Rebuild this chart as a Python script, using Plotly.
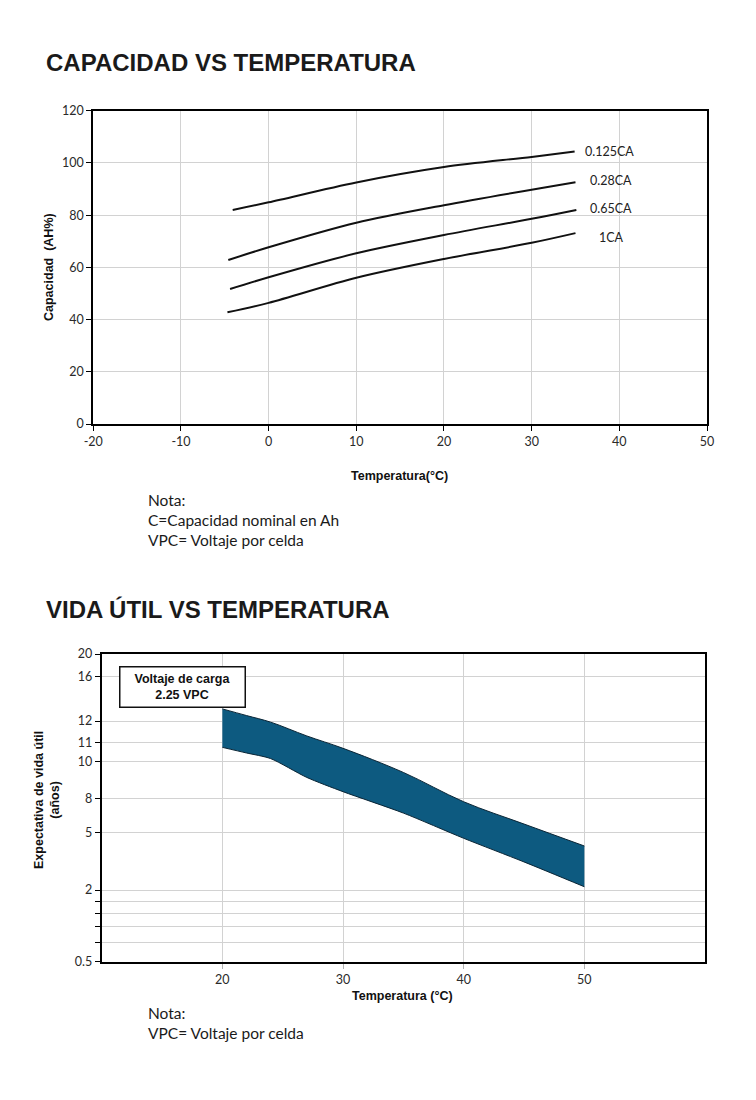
import numpy as np
import plotly.graph_objects as go

# ---------------- Data: Capacidad vs Temperatura ----------------
cap_series = ["0.125CA", "0.28CA", "0.65CA", "1CA"]
cap_temp_0125 = [-4.1, 0, 10, 20, 30, 34.9]
cap_val_0125 = [82.0, 84.9, 92.5, 98.4, 102.3, 104.4]
cap_temp_028 = [-4.6, 0, 10, 20, 35.0]
cap_val_028 = [62.8, 67.7, 77.1, 83.8, 92.6]
cap_temp_065 = [-4.4, 0, 10, 20, 30, 35.1]
cap_val_065 = [51.7, 56.2, 65.4, 72.4, 78.6, 82.0]
cap_temp_1 = [-4.7, 0, 10, 20, 30, 35.0]
cap_val_1 = [42.8, 46.4, 56.0, 63.2, 69.4, 73.1]

cap_x_ticks = [-20, -10, 0, 10, 20, 30, 40, 50]
cap_y_ticks = [0, 20, 40, 60, 80, 100, 120]

# ---------------- Data: Vida útil vs Temperatura ----------------
life_temp = [20, 22, 24, 27, 30, 35, 40, 45, 50]
life_upper = [13.1, 12.5, 11.95, 11.3, 10.69, 9.42, 7.73, 5.74, 4.29]
life_lower = [10.74, 10.45, 10.16, 9.15, 8.38, 6.72, 4.69, 3.46, 2.17]

# non-uniform (custom) life axis: tick values and their scale positions
life_tick_values = [0.5, 2, 5, 8, 10, 11, 12, 16, 20]
life_tick_labels = ["0.5", "2", "5", "8", "10", "11", "12", "16", "20"]
life_tick_pos = [0, 23.3, 42.05, 52.97, 65.0, 71.3, 78.2, 92.6, 100]
life_minor_pos = [6.2, 11.6, 15.7, 19.7]
life_x_ticks = [20, 30, 40, 50]


def life_to_axis(v):
    return np.interp(v, life_tick_values, life_tick_pos)


TICK_FONT = dict(family="Lato, Open Sans, sans-serif", size=12.5, color="#2a2a2a")
BOLDF = "Liberation Sans, Arial, sans-serif"
TITLE_FONT = dict(family="Liberation Sans, Arial, sans-serif", size=24, color="#1a1a1a")
NOTE_FONT = dict(family="Lato, Open Sans, sans-serif", size=15.5, color="#1a1a1a")

fig = go.Figure()

# Capacity curves
for name, xs, ys in [
    ("0.125CA", cap_temp_0125, cap_val_0125),
    ("0.28CA", cap_temp_028, cap_val_028),
    ("0.65CA", cap_temp_065, cap_val_065),
    ("1CA", cap_temp_1, cap_val_1),
]:
    fig.add_trace(go.Scatter(
        x=xs, y=ys, mode="lines", name=name,
        line=dict(color="#111111", width=2, shape="spline", smoothing=0.9),
        xaxis="x", yaxis="y", showlegend=False, hoverinfo="skip",
    ))

# Life band (lower edge, then upper edge filled to it)
fig.add_trace(go.Scatter(
    x=life_temp, y=life_to_axis(life_lower), mode="lines",
    line=dict(color="#0a2535", width=1, shape="spline", smoothing=0.7),
    xaxis="x2", yaxis="y2", showlegend=False, hoverinfo="skip",
))
fig.add_trace(go.Scatter(
    x=life_temp, y=life_to_axis(life_upper), mode="lines", fill="tonexty",
    fillcolor="#0d5a80",
    line=dict(color="#0a2535", width=1, shape="spline", smoothing=1.0),
    xaxis="x2", yaxis="y2", showlegend=False, hoverinfo="skip",
))

W, H = 756, 1100


def px(xp):
    return xp / W


def py(yp):
    return 1 - yp / H


axis_common = dict(
    automargin=False,
    showline=True, linecolor="#000000", linewidth=2, mirror=True,
    gridcolor="#d2d2d2", gridwidth=1, zeroline=False,
    ticks="outside", ticklen=5, tickcolor="#000000", tickwidth=1,
    tickfont=TICK_FONT,
)

fig.update_layout(
    width=W, height=H,
    margin=dict(l=0, r=0, t=0, b=0, autoexpand=False),
    paper_bgcolor="#ffffff", plot_bgcolor="#ffffff",
    xaxis=dict(domain=[px(93.3), px(707)], range=[-20, 50], tickvals=cap_x_ticks,
               ticktext=[str(v) for v in cap_x_ticks],
               anchor="y", **axis_common),
    yaxis=dict(domain=[py(424), py(110.7)], range=[0, 120], tickvals=cap_y_ticks,
               ticktext=[str(v) for v in cap_y_ticks],
               anchor="x", **axis_common),
    xaxis2=dict(domain=[px(101.7), px(705)], range=[10, 60], tickvals=life_x_ticks,
                ticktext=[str(v) for v in life_x_ticks],
                anchor="y2", **{**axis_common, "tickcolor": "#b0b0b0"}),
    yaxis2=dict(domain=[py(961.7), py(654)], range=[0, 100],
                tickvals=life_tick_pos + life_minor_pos,
                ticktext=life_tick_labels + [""] * len(life_minor_pos),
                anchor="x2", **axis_common),
)

ann = []
# Titles
ann.append(dict(text="<b>CAPACIDAD VS TEMPERATURA</b>", x=px(44), y=py(62),
                xref="paper", yref="paper", xanchor="left", yanchor="middle",
                showarrow=False, font=TITLE_FONT))
ann.append(dict(text="<b>VIDA ÚTIL VS TEMPERATURA</b>", x=px(44), y=py(609),
                xref="paper", yref="paper", xanchor="left", yanchor="middle",
                showarrow=False, font=TITLE_FONT))

AXT = dict(family=BOLDF, size=12.5, color="#111")
# Axis titles
ann.append(dict(text="<b>Temperatura(°C)</b>", x=px(399), y=py(476),
                xref="paper", yref="paper", xanchor="center", yanchor="middle",
                showarrow=False, font=AXT))
ann.append(dict(text="<b>Capacidad  (AH%)</b>", x=px(49), y=py(267),
                xref="paper", yref="paper", xanchor="center", yanchor="middle",
                textangle=-90, showarrow=False, font=AXT))
ann.append(dict(text="<b>Temperatura (°C)</b>", x=px(403), y=py(996),
                xref="paper", yref="paper", xanchor="center", yanchor="middle",
                showarrow=False, font=AXT))
ann.append(dict(text="<b>Expectativa de vida útil<br>(años)</b>", x=px(47), y=py(800),
                xref="paper", yref="paper", xanchor="center", yanchor="middle",
                textangle=-90, showarrow=False, font=AXT))

# Curve labels
label_pos = {"0.125CA": (35.8, 104.3), "0.28CA": (36.4, 93.4),
             "0.65CA": (36.4, 82.5), "1CA": (37.4, 71.5)}
for name in cap_series:
    lx, ly = label_pos[name]
    ann.append(dict(text=name, x=lx, y=ly, xref="x", yref="y",
                    xanchor="left", yanchor="middle", showarrow=False,
                    font=dict(family="Lato, Open Sans, sans-serif", size=12.5, color="#222")))

# Notes
ann.append(dict(text="Nota:<br>C=Capacidad nominal en Ah<br>VPC= Voltaje por celda",
                x=px(146), y=py(489), xref="paper", yref="paper",
                xanchor="left", yanchor="top", align="left", showarrow=False,
                font=NOTE_FONT))
ann.append(dict(text="Nota:<br>VPC= Voltaje por celda",
                x=px(146), y=py(1002), xref="paper", yref="paper",
                xanchor="left", yanchor="top", align="left", showarrow=False,
                font=NOTE_FONT))

# Charging voltage box
ann.append(dict(text="<b>Voltaje de carga<br>2.25 VPC</b>", x=px(182.4), y=py(687),
                xref="paper", yref="paper", xanchor="center", yanchor="middle",
                showarrow=False, bgcolor="#ffffff", bordercolor="#111111",
                borderwidth=1.5, borderpad=2, width=120, height=35,
                font=dict(family=BOLDF, size=12.5, color="#111")))

fig.update_layout(annotations=ann)

fig.write_html("out.html")
